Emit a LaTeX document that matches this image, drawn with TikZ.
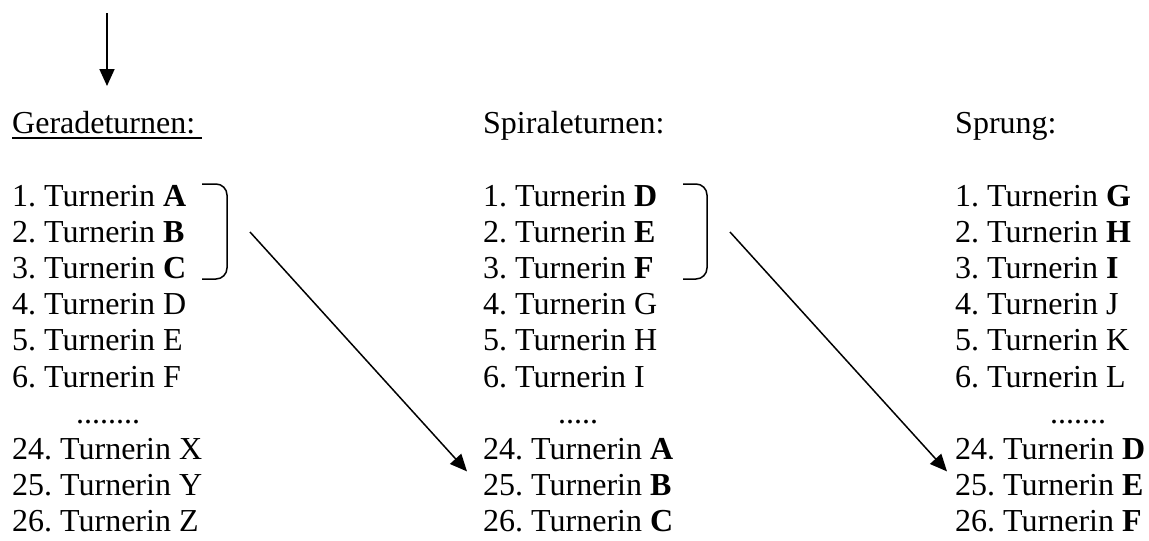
\documentclass[tikz,border=0pt]{standalone}
\usepackage{fontspec}
\setmainfont{Liberation Serif}
\usetikzlibrary{arrows.meta}
\frenchspacing
\begin{document}
\begin{tikzpicture}[x=1pt,y=-1pt,
    every node/.style={anchor=base west,inner sep=0pt,font=\fontsize{32}{36}\selectfont},
    pfeil/.style={-{Triangle[length=17pt,width=15pt]},line width=1.5pt},
    klammer/.style={line width=1.5pt,rounded corners=11pt}]
  \useasboundingbox (0,0) rectangle (1149,541);
  % Geradeturnen
  \draw
    (12,133) node (g0){Geradeturnen:}
    (12,206) node (g1){1. Turnerin \textbf{A}}
    (12,242.2) node (g2){2. Turnerin \textbf{B}}
    (12,278.4) node (g3){3. Turnerin \textbf{C}}
    (12,314.6) node (g4){4. Turnerin D}
    (12,350.8) node (g5){5. Turnerin E}
    (12,387) node (g6){6. Turnerin F}
    (76,423.2) node (gd){........}
    (12,459.4) node (g7){24. Turnerin X}
    (12,495.6) node (g8){25. Turnerin Y}
    (12,531.8) node (g9){26. Turnerin Z};
  \draw[line width=1.5pt] ([yshift=-5pt]g0.base west) -- ([xshift=7pt,yshift=-5pt]g0.base east);
  % Spiraleturnen
  \draw
    (483,133) node (s0){Spiraleturnen:}
    (483,206) node (s1){1. Turnerin \textbf{D}}
    (483,242.2) node (s2){2. Turnerin \textbf{E}}
    (483,278.4) node (s3){3. Turnerin \textbf{F}}
    (483,314.6) node (s4){4. Turnerin G}
    (483,350.8) node (s5){5. Turnerin H}
    (483,387) node (s6){6. Turnerin I}
    (558,423.2) node (sd){.....}
    (483,459.4) node (s7){24. Turnerin \textbf{A}}
    (483,495.6) node (s8){25. Turnerin \textbf{B}}
    (483,531.8) node (s9){26. Turnerin \textbf{C}};
  % Sprung
  \draw
    (955,133) node (p0){Sprung:}
    (955,206) node (p1){1. Turnerin \textbf{G}}
    (955,242.2) node (p2){2. Turnerin \textbf{H}}
    (955,278.4) node (p3){3. Turnerin \textbf{I}}
    (955,314.6) node (p4){4. Turnerin J}
    (955,350.8) node (p5){5. Turnerin K}
    (955,387) node (p6){6. Turnerin L}
    (1050,423.2) node (pd){.......}
    (955,459.4) node (p7){24. Turnerin \textbf{D}}
    (955,495.6) node (p8){25. Turnerin \textbf{E}}
    (955,531.8) node (p9){26. Turnerin \textbf{F}};
  % Klammern und Pfeile
  \draw[klammer] (202,184) -- (227,184) -- (227,279) -- (202,279);
  \draw[klammer] (683,184) -- (707,184) -- (707,279) -- (683,279);
  \coordinate (k1) at (250,232);
  \coordinate (k2) at (730,232);
  \coordinate (oben) at (107,13);
  \coordinate (unten) at (107,86);
  \draw[pfeil,line width=1.8pt] (oben) -- (unten);
  \draw[pfeil] (k1) -- ([xshift=-16pt,yshift=-12pt]s7.base west);
  \draw[pfeil] (k2) -- ([xshift=-8pt,yshift=-12pt]p7.base west);
\end{tikzpicture}
\end{document}
